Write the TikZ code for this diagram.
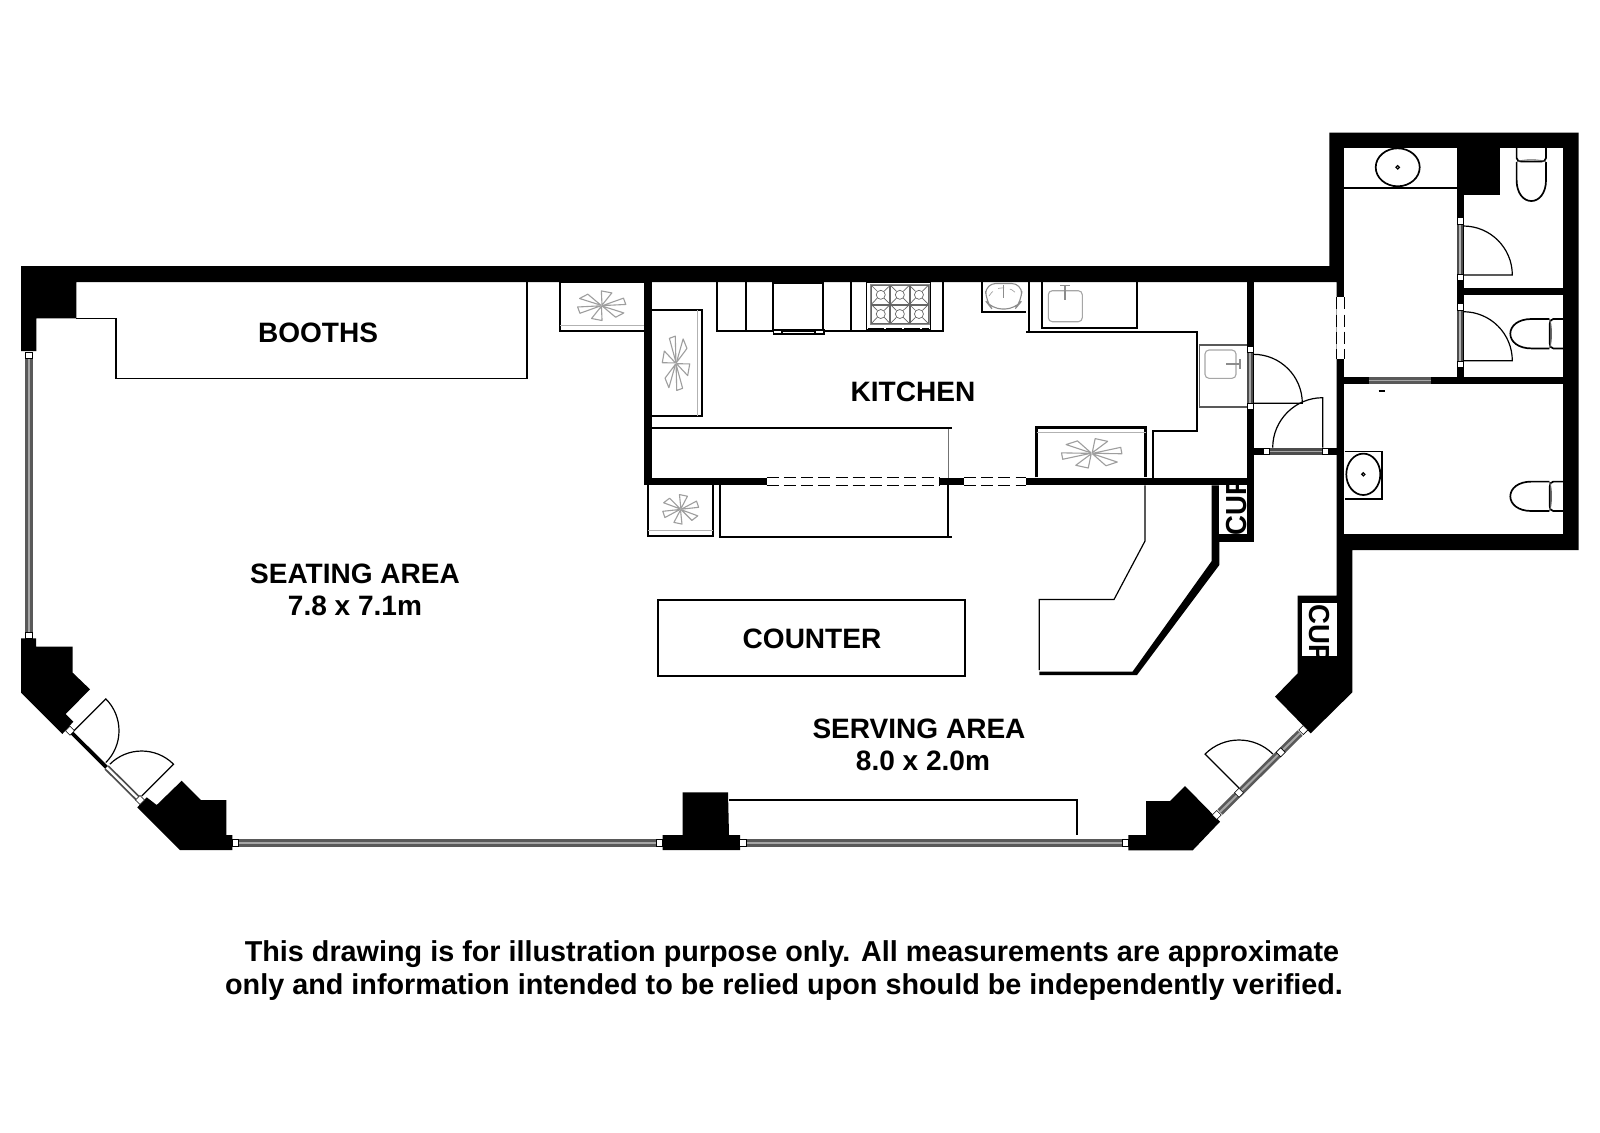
\documentclass[tikz,border=0pt]{standalone}
\usepackage{fontspec}
\setmainfont{Liberation Sans}
\tikzset{
  plan/.style={x=0.5pt,y=-0.5pt},
  wall/.style={fill=black,draw=none},
  thinline/.style={draw=black,line width=0.6pt,line join=miter},
  medline/.style={draw=black,line width=0.85pt},
  boldline/.style={draw=black,line width=1.25pt},
  greyline/.style={draw=black!45,line width=0.5pt},
  fadeline/.style={draw=black!30,line width=0.55pt},
  label/.style={font=\fontsize{14.02}{17}\selectfont\bfseries,inner sep=0pt,text=black},
  footer/.style={font=\fontsize{14.39}{17}\selectfont\bfseries,inner sep=0pt,text=black},
  cuplabel/.style={font=\fontsize{14.5}{17}\selectfont\bfseries,inner sep=0pt,text=black},
  winouter/.style={draw=black!65,line width=3.7pt,line cap=butt},
  winmid/.style={draw=black!35,line width=1pt,line cap=butt},
  leafline/.style={draw=black,line width=0.6pt},
  openline/.style={draw=black,line width=0.55pt,dash pattern=on 6pt off 2.6pt},
}
\newcommand{\winband}[2]{%
  \draw[winouter] (#1) -- (#2);
  \draw[winmid] (#1) -- (#2);}
\newcommand{\whitesq}[3]{%
  \draw[draw=black,line width=0.3pt,fill=white,shift={(#1,#2)},rotate=#3] (-3.2,-3.2) rectangle (3.2,3.2);}
\newcommand{\doorleaf}[5]{% hinge x,y, radius, start angle, delta
  \draw[leafline] (#1,#2) -- ++(#4:#3) arc[start angle=#4,delta angle=#5,radius=#3];}
\newcommand{\flake}[5]{% cx cy sx sy rot
  \begin{scope}[shift={(#1,#2)},xscale=#3,yscale=#4]
    \foreach \a in {0,60,...,300}{
      \draw[draw=black!38,line width=0.55pt,fill=white,line join=round,rotate=\a+#5]
        (0.04,0) -- (1,-.34) -- (1,.12) -- cycle;}
  \end{scope}}
\newcommand{\toilet}[3]{% origin at wall, rotation
  \begin{scope}[shift={(#1,#2)},rotate=#3]
    \draw[medline] (-14.7,0) -- (-14.7,10) .. controls (-14.7,13) and (-12,13.5) .. (-10,13.5) -- (10,13.5) .. controls (12,13.5) and (14.7,13) .. (14.7,10) -- (14.7,0);
    \draw[medline] (-14.7,14) -- (-14.7,32) .. controls (-14.7,45) and (-8,53) .. (0,53) .. controls (8,53) and (14.7,45) .. (14.7,32) -- (14.7,14);
    \draw[draw=black!60,line width=0.4pt] (-14.7,14) .. controls (-10,11) and (10,11) .. (14.7,14);
  \end{scope}}
\begin{document}
\begin{tikzpicture}[plan]
\useasboundingbox (0,0) rectangle (1600,1132);
\fill[white] (0,0) rectangle (1600,1132);

% windows
\winband{28.8,358}{28.8,632}
\winband{238,843}{657,843}
\winband{745,843}{1122.5,843}
\winband{1220,812}{1300,733}

% main shell
\fill[wall] (21,266) -- (1329.3,266) -- (1329.3,132.7) -- (1578.7,132.7) -- (1578.7,550) -- (1352.3,550) -- (1352.3,692.3) -- (1310.7,733.3) -- (1275,696.7) -- (1297.7,673.3) -- (1297.7,595.7) -- (1336.7,595.7) -- (1336.7,282) -- (76.4,282) -- (76.4,318.3) -- (36.4,318.3) -- (36.4,351) -- (21,351) -- cycle;
\fill[white] (1344.3,147.7) rectangle (1563.3,534.3);
\fill[wall] (1336.7,282) rectangle (1344.3,550);
% piers
\fill[wall] (21,638.3) -- (36,638.3) -- (36,646.7) -- (72.7,646.7) -- (72.7,672.7) -- (90,689.3) -- (65.7,714) -- (73.3,721.7) -- (62.3,734) -- (21,692.7) -- cycle;
\fill[wall] (146.7,797.3) -- (156.7,805) -- (181.7,780.7) -- (201,800) -- (226.3,800) -- (226.3,835) -- (232.3,835) -- (232.3,850) -- (180,850) -- (137.3,807.3) -- cycle;
\fill[wall] (682.7,792.3) -- (728,792.3) -- (729,835) -- (740,835) -- (740,850) -- (662.7,850) -- (662.7,835) -- (682.7,835) -- cycle;
\fill[wall] (1128.3,835) -- (1146,835) -- (1146,801) -- (1170,801) -- (1185,786) -- (1220,821.7) -- (1192.7,850.3) -- (1128.3,850.3) -- cycle;

% inner walls
\fill[wall] (644.3,282) rectangle (652,485.3);
\fill[wall] (644.3,477.7) rectangle (766.7,485.3);
\fill[wall] (939,477.7) rectangle (964,485.3);
\fill[wall] (1026,477.7) rectangle (1254,485.3);
\fill[wall] (1246.7,282) rectangle (1254,541.7);
\fill[wall] (1254,447.7) rectangle (1336.7,455.3);
\fill[wall] (1219.3,534) rectangle (1254,541.7);
\fill[wall] (1211.7,485.3) -- (1219.3,485.3) -- (1219.3,565) -- (1137,675) -- (1039.3,675) -- (1039.3,671.7) -- (1132.5,671.7) -- (1211.7,561) -- cycle;
% wc walls
\fill[wall] (1456.7,147.7) rectangle (1464.3,384.3);
\fill[wall] (1456.7,147.7) rectangle (1500,195);
\fill[wall] (1344.3,376.7) rectangle (1563.3,384.3);
\fill[wall] (1464.3,287.7) rectangle (1563.3,295.3);

% window ends
\whitesq{28.8}{355}{0}
\whitesq{28.8}{635.5}{0}
\whitesq{235.3}{842.7}{0}
\whitesq{659.3}{842.7}{0}
\whitesq{742.7}{842.7}{0}
\whitesq{1125.3}{842.7}{0}

% SW double door
\draw[draw=black,line width=1.9pt] (72,733) -- (106.7,767.5);
\draw[draw=black!70,line width=3pt] (106.7,767.5) -- (138,798.5);
\draw[draw=white,line width=1.2pt] (106.7,767.5) -- (138,798.5);
\whitesq{70}{730.7}{45}
\whitesq{140}{800}{45}
\doorleaf{74}{730.7}{45}{-45}{90}
\doorleaf{141.7}{796}{45}{-45}{-90}

% SE door
\whitesq{1216.7}{815}{-45}
\whitesq{1239}{792.7}{-45}
\whitesq{1280.7}{752.3}{-45}
\whitesq{1303.3}{730}{-45}
\doorleaf{1239}{788}{48}{-135}{90}

% booth and fittings
\draw[thinline] (76.4,318.3) -- (116,318.3) -- (116,378.7) -- (527,378.7) -- (527,282);

% CUP niches
\begin{scope}
  \fill[white] (1219.3,485.3) rectangle (1246.7,534);
  \clip (1219.3,485.3) rectangle (1246.7,534);
  \node[cuplabel,rotate=90,xscale=0.95,anchor=base west] (cupa) at (1246.7,536) {CUP};
\end{scope}
\begin{scope}
  \fill[white] (1302,603.3) rectangle (1336.7,655.7);
  \clip (1302,603.3) rectangle (1336.7,655.7);
  \node[cuplabel,rotate=-90,xscale=0.95,anchor=base west] (cupb) at (1309,604) {CUP};
\end{scope}

% fridges
\draw[medline] (644.3,282) -- (560,282) -- (560,331) -- (644.3,331);
\draw[fadeline] (560,325.7) -- (644.3,325.7);
\flake{601.7}{305.7}{24}{14}{12}
\draw[medline] (652,310) -- (702.3,310) -- (702.3,415.7) -- (652,415.7);
\draw[fadeline] (697.3,310) -- (697.3,415.7);
\flake{676}{363.3}{13}{27}{100}
\draw[medline] (648.3,485.3) -- (648.3,535.7) -- (713.3,535.7) -- (713.3,485.3);
\draw[fadeline] (648.3,530.7) -- (713.3,530.7);
\flake{680.7}{509.3}{18}{14}{15}
\draw[boldline] (1036.7,477.3) -- (1036.7,427.7) -- (1145.7,427.7) -- (1145.7,477.3);
\draw[fadeline] (1036.7,432.7) -- (1145.7,432.7);
\flake{1091.7}{453.3}{30}{14}{5}

% kitchen counters
\draw[thinline] (652,428) -- (951.7,428);
\draw[draw=black!55,line width=0.5pt] (948,428) -- (948,477.7);
\draw[medline] (948,485.3) -- (948,537.3);
\draw[medline] (720,485.3) -- (720,537.3) -- (951.7,537.3);
\draw[medline] (946,428) -- (951.7,428);
\draw[medline] (716.7,282) -- (716.7,331) -- (942.7,331) -- (942.7,282);
\draw[medline] (746,282) -- (746,331);
\draw[medline] (850.7,282) -- (850.7,331);
% oven
\draw[medline,fill=white] (773.3,283.3) rectangle (823.3,330);
\draw[thinline,fill=white] (773.3,330) rectangle (824,334);
\draw[thinline] (782,331) rectangle (815,334.7);
% stove
\draw[thinline,fill=white] (866.7,282.3) rectangle (930.7,329.3);
\draw[greyline] (870,284.5) rectangle (929,324);
\foreach \i in {0,1,2}{\foreach \j in {0,1}{
  \begin{scope}[shift={(871.2+19.1*\i,285.2+19.2*\j)}]
    \draw[draw=black!60,line width=0.4pt] (0.5,0.5) rectangle (18.6,18.7);
    \draw[draw=black!60,line width=0.35pt] (0.5,0.5) -- (6,6) (18.6,0.5) -- (13,6) (0.5,18.7) -- (6,13) (18.6,18.7) -- (13,13);
    \draw[draw=black!60,line width=0.35pt] (9.55,9.6) circle (4.5);
  \end{scope}}}
\draw[draw=black,line width=0.7pt,dash pattern=on 8pt off 1pt] (868,328.5) -- (929,328.5);
% small sink
\draw[medline] (982.3,282) -- (982.3,311.7) -- (1025.7,311.7);
\draw[draw=black!45,line width=0.55pt,rounded corners=5pt] (985.7,283.5) -- (985.7,301) -- (992,309) -- (1015,309) -- (1021.7,301) -- (1021.7,283.5) -- cycle;
\draw[draw=black!35,line width=0.35pt,dashed] (989,296) .. controls (995,285) and (1012,285) .. (1018,296);
\draw[draw=black!45,line width=0.45pt] (1003.5,285) -- (1003.5,298);
\draw[medline] (1029,282) -- (1029,331.7);
% long bench
\draw[medline] (1041.7,282) -- (1041.7,328.3) -- (1136.7,328.3) -- (1136.7,282);
\draw[draw=black!35,line width=0.55pt,rounded corners=2pt] (1048.3,290.7) rectangle (1082.3,321.7);
\draw[draw=black!45,line width=0.9pt] (1060,285.5) -- (1070,285.5) (1065,285.5) -- (1065,300);
% kitchen outline
\draw[medline] (1026,331.7) -- (1196.7,331.7) -- (1196.7,430.7) -- (1153.3,430.7) -- (1153.3,477.7);
% corner sink
\draw[draw=black!65,line width=0.6pt,fill=white] (1246.7,345) -- (1199.3,345) -- (1199.3,407) -- (1246.7,407);
\draw[draw=black!35,line width=0.55pt,rounded corners=2pt] (1205,350) rectangle (1236,378.3);
\draw[draw=black!45,line width=0.9pt] (1226,364) -- (1240,364) (1240,359) -- (1240,369);

% hall doors
\draw[draw=black!70,line width=3.2pt] (1250,352) -- (1250,404);
\draw[draw=black!35,line width=0.8pt] (1250,352) -- (1250,404);
\whitesq{1250.3}{349.3}{0}
\whitesq{1250.3}{406}{0}
\doorleaf{1253.3}{403.3}{49}{0}{-90}
\draw[draw=black!70,line width=3.2pt] (1270,451.5) -- (1323,451.5);
\draw[draw=black!35,line width=0.8pt] (1270,451.5) -- (1323,451.5);
\whitesq{1266.5}{451.5}{0}
\whitesq{1325}{451.5}{0}
\doorleaf{1322.7}{447.7}{50}{-90}{-90}

% wc doors
\draw[draw=black!70,line width=2.8pt] (1460,224) -- (1460,274);
\draw[draw=black!30,line width=0.8pt] (1460,224) -- (1460,274);
\whitesq{1460}{220.7}{0}
\whitesq{1460}{277.3}{0}
\doorleaf{1463.3}{275}{49}{0}{-90}
\draw[draw=black!70,line width=2.8pt] (1460,310) -- (1460,361);
\draw[draw=black!30,line width=0.8pt] (1460,310) -- (1460,361);
\whitesq{1460}{306.7}{0}
\whitesq{1460}{364}{0}
\doorleaf{1463.3}{360.7}{49}{0}{-90}
\draw[draw=black!65,line width=3.4pt] (1368.7,380.5) -- (1431.3,380.5);
\draw[draw=black!35,line width=0.8pt] (1368.7,380.5) -- (1431.3,380.5);
\draw[draw=black,line width=0.6pt] (1378.5,391) -- (1384.5,391);

% wide opening in hall wall
\fill[white] (1336.7,297.3) rectangle (1344.3,359.3);
\draw[draw=black,line width=0.55pt,dash pattern=on 6pt off 2.6pt] (1336.7,297.3) -- (1336.7,359.3);
\draw[draw=black,line width=0.55pt,dash pattern=on 6pt off 2.6pt] (1344.3,297.3) -- (1344.3,359.3);

% kitchen openings
\draw[openline] (766.7,477.7) -- (939,477.7);
\draw[openline] (766.7,485.3) -- (939,485.3);
\draw[openline] (964,477.7) -- (1026,477.7);
\draw[openline] (964,485.3) -- (1026,485.3);

% wash room fittings
\draw[medline] (1344.3,187.7) -- (1456.7,187.7);
\draw[medline] (1397.7,167.3) ellipse (22 and 19);
\draw[thinline] (1397.7,167.3) circle (1.7);
\toilet{1531.3}{148}{0}
\toilet{1563.3}{333.7}{-90}
\toilet{1563.3}{496.3}{-90}
\draw[thinline] (1344.7,451.3) -- (1382,451.3) -- (1382,499) -- (1344.7,499);
\draw[medline] (1363.3,474.3) ellipse (17 and 20.7);
\draw[thinline] (1363.3,474.3) circle (1.6);

% serving counter
\draw[thinline] (1145,485.3) -- (1145,541) -- (1114,599.5) -- (1039.3,599.5) -- (1039.3,670);
\draw[thinline] (658,600) rectangle (965,676);
\draw[medline] (729.3,800) -- (1077.3,800) -- (1077.3,834.7);

% labels
\node[label] (booths) at (318,333) {BOOTHS};
\node[label] (seating) at (355,574) {SEATING AREA};
\node[label] (seatdim) at (355,606) {7.8 x 7.1m};
\node[label] (kitchen) at (913,392) {KITCHEN};
\node[label] (counter) at (812,639) {COUNTER};
\node[label] (serving) at (919,729) {SERVING AREA};
\node[label] (servdim) at (923,761) {8.0 x 2.0m};
\node[footer] (noteone) at (792,954) {This drawing is for illustration purpose only. All measurements are approximate};
\node[footer] (notetwo) at (784,987) {only and information intended to be relied upon should be independently verified.};
\end{tikzpicture}
\end{document}
